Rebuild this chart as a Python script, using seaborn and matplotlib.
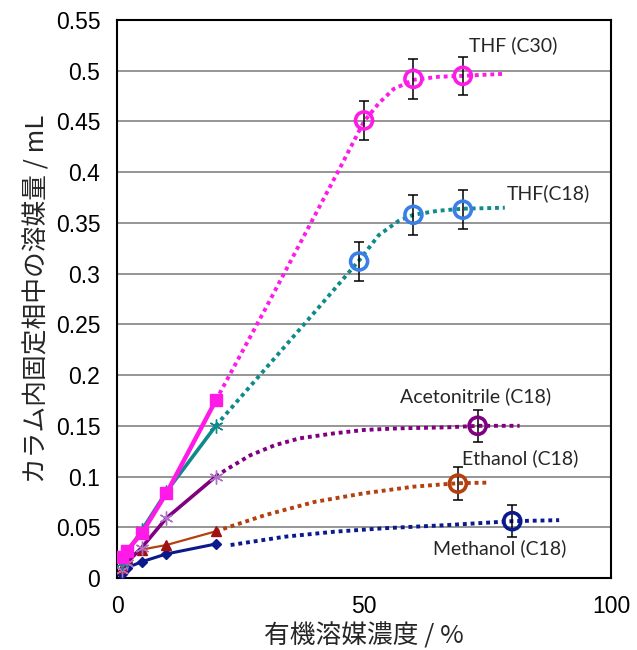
import matplotlib.pyplot as plt
import seaborn as sns

sns.set_theme(style="white")
plt.rcParams["font.family"] = ["Liberation Sans", "DejaVu Sans"]

# measured points at low concentration (solid lines)
x_lo = [1, 2, 5, 10, 20]
thf30_lo = [0.021, 0.027, 0.044, 0.0835, 0.175]
thf18_lo = [0.015, 0.025, 0.047, 0.085, 0.150]
acn_lo = [0.008, 0.015, 0.030, 0.059, 0.100]
etoh_lo = [0.010, 0.020, 0.028, 0.0325, 0.046]
meoh_lo = [0.004, 0.010, 0.016, 0.0237, 0.0335]

# dotted trend curves
thf30_fit_x = [20, 30, 40, 45, 50, 53, 56, 60, 65, 70, 78.5]
thf30_fit_y = [0.175, 0.265, 0.357, 0.403, 0.450, 0.468, 0.482, 0.491, 0.494, 0.495, 0.497]
thf18_fit_x = [20, 30, 40, 49, 53, 57, 60, 65, 70, 78.5]
thf18_fit_y = [0.150, 0.206, 0.262, 0.313, 0.338, 0.352, 0.358, 0.362, 0.364, 0.365]
acn_fit_x = [20, 22, 27, 32, 37, 44, 50, 57, 67, 73, 81.5]
acn_fit_y = [0.100, 0.1065, 0.121, 0.131, 0.1377, 0.1426, 0.1459, 0.1475, 0.1485, 0.150, 0.150]
etoh_fit_x = [20, 30, 40, 50, 60, 67, 69, 75]
etoh_fit_y = [0.046, 0.062, 0.075, 0.0835, 0.090, 0.0927, 0.0934, 0.094]
meoh_fit_x = [23, 34, 44, 54, 67, 80, 89.5]
meoh_fit_y = [0.0325, 0.0407, 0.0456, 0.049, 0.0522, 0.056, 0.057]

# high concentration points with error bars
thf30_x = [50, 60, 70]
thf30_y = [0.451, 0.492, 0.495]
thf30_err = [0.019, 0.020, 0.019]
thf18_x = [49, 60, 70]
thf18_y = [0.312, 0.358, 0.363]
thf18_err = [0.019, 0.020, 0.019]
acn_x, acn_y, acn_err = [73], [0.150], [0.016]
etoh_x, etoh_y, etoh_err = [69], [0.093], [0.016]
meoh_x, meoh_y, meoh_err = [80], [0.056], [0.016]

fig = plt.figure(figsize=(6.37, 6.5), dpi=100)
ax = fig.add_axes([0.1837, 0.1108, 0.7755, 0.8584])

series = [
    # lo y, fit x, fit y, pts x, pts y, err, line color, circle color, marker, ms, lw, mcolor
    (meoh_lo, meoh_fit_x, meoh_fit_y, meoh_x, meoh_y, meoh_err, "#0A1A8C", "#0A1A8C", "D", 5, 2.2, "#0A1A8C"),
    (etoh_lo, etoh_fit_x, etoh_fit_y, etoh_x, etoh_y, etoh_err, "#B5400F", "#B5400F", "^", 7, 1.6, "#A01010"),
    (acn_lo, acn_fit_x, acn_fit_y, acn_x, acn_y, acn_err, "#800080", "#800080", (6, 2, 0), 10, 2.6, "#B070C8"),
    (thf18_lo, thf18_fit_x, thf18_fit_y, thf18_x, thf18_y, thf18_err, "#0F8A8A", "#3A7FE8", (6, 2, 0), 10, 2.6, "#0F8A8A"),
    (thf30_lo, thf30_fit_x, thf30_fit_y, thf30_x, thf30_y, thf30_err, "#FF1AE8", "#FF1AE8", "s", 8, 3.2, "#FF1AE8"),
]

for lo, fx, fy, px, py, pe, lc, cc, mk, ms, lw, mc in series:
    sns.lineplot(x=fx, y=fy, ax=ax, color=lc, lw=2.8, linestyle=(0, (1, 1)),
                 dash_capstyle="butt", sort=False, estimator=None, zorder=3)
    sns.lineplot(x=x_lo, y=lo, ax=ax, color=lc, lw=lw, marker=mk, ms=ms,
                 mfc=mc, mec=mc, mew=1.0, sort=False, estimator=None, zorder=4)
    ax.errorbar(px, py, yerr=pe, fmt="none", ecolor="black", elinewidth=1.1,
                capsize=3.6, capthick=1.1, zorder=5)
    sns.scatterplot(x=px, y=py, ax=ax, marker="o", s=150, color=cc,
                    facecolor="none", edgecolor=cc, linewidth=2.6, zorder=6)

ax.set_xlim(0, 100)
ax.set_ylim(0, 0.55)
ax.set_xticks([0, 50, 100])
ax.set_xticklabels(["0", "50", "100"])
yt = [i * 0.05 for i in range(12)]
ax.set_yticks(yt)
ax.set_yticklabels(["0", "0.05", "0.1", "0.15", "0.2", "0.25", "0.3", "0.35",
                    "0.4", "0.45", "0.5", "0.55"])
ax.yaxis.grid(True, color="#8C8C8C", lw=1.3)
ax.xaxis.grid(False)
ax.set_axisbelow(True)
ax.tick_params(direction="in", length=5, width=1, colors="black",
               labelsize=16.5, pad=12)
ax.tick_params(axis="x", pad=12)
for s in ax.spines.values():
    s.set_color("black")
    s.set_linewidth(1.5)

jp = ["Noto Sans CJK JP", "DejaVu Sans"]
ax.set_xlabel("有機溶媒濃度 / %", fontsize=18.5, family=jp, labelpad=4)
ax.set_ylabel("カラム内固定相中の溶媒量 / mL", fontsize=18.5, family=jp, labelpad=4)

lab = ["Lato", "DejaVu Sans"]
ax.text(71.3, 0.525, "THF (C30)", fontsize=14, family=lab, va="center")
ax.text(78.9, 0.3795, "THF(C18)", fontsize=14, family=lab, va="center")
ax.text(57.3, 0.1787, "Acetonitrile (C18)", fontsize=14, family=lab, va="center")
ax.text(69.8, 0.118, "Ethanol (C18)", fontsize=14, family=lab, va="center")
ax.text(64.0, 0.0296, "Methanol (C18)", fontsize=14, family=lab, va="center")

fig.savefig("out.png", dpi=100)
